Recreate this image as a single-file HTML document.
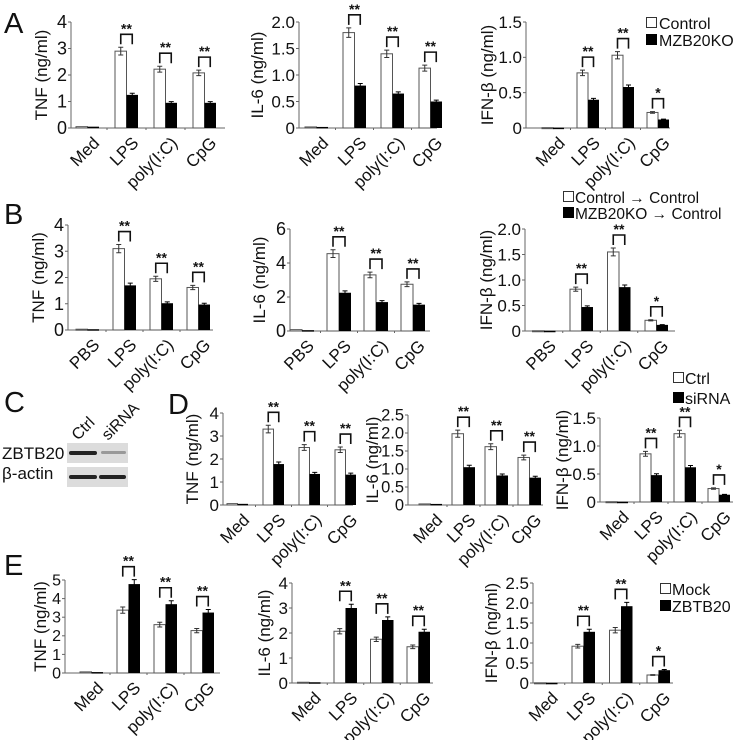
<!DOCTYPE html>
<html><head><meta charset="utf-8">
<style>
html,body{margin:0;padding:0;background:#fff;}
svg{display:block;font-family:"Liberation Sans",Arial,sans-serif;}
</style></head>
<body>
<svg id="fig" width="737" height="740" viewBox="0 0 737 740">
  <g font-size="29" fill="#111">
    <text x="4" y="33">A</text>
    <text x="4" y="224">B</text>
    <text x="4" y="412">C</text>
    <text x="168" y="414">D</text>
    <text x="4" y="575">E</text>
  </g>
  <g>
    <text x="2" y="459" font-size="17" fill="#111">ZBTB20</text>
    <text x="2" y="479" font-size="17" fill="#111">β-actin</text>
    <text transform="translate(78,441) rotate(-45)" font-size="16" fill="#111">Ctrl</text>
    <text transform="translate(108,441) rotate(-45)" font-size="16" fill="#111">siRNA</text>
    <rect x="67" y="443" width="61" height="20" fill="#dcdcdc"/>
    <rect x="67" y="467" width="61" height="20" fill="#dcdcdc"/>
    <rect x="69" y="451" width="28" height="4" rx="2" fill="#222"/>
    <rect x="101" y="451" width="25" height="3" rx="1.5" fill="#999"/>
    <rect x="69" y="475" width="28" height="4" rx="2" fill="#222"/>
    <rect x="99" y="475" width="27" height="4" rx="2" fill="#222"/>
  </g>
  <g id="charts"></g>
  <g font-size="16" fill="#111">
    <rect x="646.5" y="17.5" width="10" height="10" fill="#fff" stroke="#333"/>
    <text x="659" y="29">Control</text>
    <rect x="646" y="34" width="11" height="11" fill="#000"/>
    <text x="659" y="46">MZB20KO</text>
    <rect x="563.5" y="191.5" width="10" height="10" fill="#fff" stroke="#333"/>
    <text x="575" y="203" font-size="15.5">Control → Control</text>
    <rect x="563" y="207" width="11" height="11" fill="#000"/>
    <text x="575" y="219" font-size="15.5">MZB20KO → Control</text>
    <rect x="673.5" y="372.5" width="10" height="10" fill="#fff" stroke="#333"/>
    <text x="685" y="384">Ctrl</text>
    <rect x="673" y="392" width="11" height="11" fill="#000"/>
    <text x="685" y="404">siRNA</text>
    <rect x="660.5" y="583.5" width="10" height="10" fill="#fff" stroke="#333"/>
    <text x="672" y="595">Mock</text>
    <rect x="660" y="600" width="11" height="11" fill="#000"/>
    <text x="672" y="612">ZBTB20</text>
  </g>
</svg>
<script>
// ---- data ----
const catsMed = ["Med","LPS","poly(I:C)","CpG"];
const catsPBS = ["PBS","LPS","poly(I:C)","CpG"];
const starsAll = ["", "**", "**", "**"];
const starsIfn = ["", "**", "**", "*"];

const aTnfWhite = [0.05, 2.9, 2.22, 2.08];
const aTnfBlack = [0.05, 1.25, 0.95, 0.95];
const aIl6White = [0.02, 1.8, 1.4, 1.13];
const aIl6Black = [0.02, 0.8, 0.65, 0.5];
const aIfnWhite = [0.005, 0.78, 1.03, 0.22];
const aIfnBlack = [0.005, 0.4, 0.58, 0.12];

const bTnfWhite = [0.03, 3.1, 1.95, 1.62];
const bTnfBlack = [0.03, 1.7, 1.02, 0.97];
const bIl6White = [0.08, 4.55, 3.3, 2.75];
const bIl6Black = [0.05, 2.25, 1.7, 1.55];
const bIfnWhite = [0.005, 0.82, 1.55, 0.21];
const bIfnBlack = [0.005, 0.47, 0.86, 0.12];

const dTnfWhite = [0.06, 3.3, 2.5, 2.4];
const dTnfBlack = [0.05, 1.78, 1.35, 1.32];
const dIl6White = [0.03, 1.98, 1.62, 1.32];
const dIl6Black = [0.03, 1.05, 0.82, 0.76];
const dIfnWhite = [0.005, 0.86, 1.22, 0.24];
const dIfnBlack = [0.005, 0.48, 0.62, 0.13];

const eTnfWhite = [0.06, 3.38, 2.6, 2.28];
const eTnfBlack = [0.05, 4.78, 3.7, 3.25];
const eIl6White = [0.03, 2.07, 1.75, 1.45];
const eIl6Black = [0.03, 3.0, 2.52, 2.05];
const eIfnWhite = [0.005, 0.92, 1.32, 0.2];
const eIfnBlack = [0.005, 1.28, 1.92, 0.32];

const ticksTnf4 = [0, 1, 2, 3, 4];
const ticksTnf5 = [0, 1, 2, 3, 4, 5];
const ticksIl6A = [0, 0.5, 1.0, 1.5, 2.0];
const ticksIl6B = [0, 2, 4, 6];
const ticksIl6D = [0, 0.5, 1.0, 1.5, 2.0, 2.5];
const ticksIfn15 = [0, 0.5, 1.0, 1.5];
const ticksIfn20 = [0, 0.5, 1.0, 1.5, 2.0];
const ticksIfn25 = [0, 0.5, 1.0, 1.5, 2.0, 2.5];
const ticksIl6E = [0, 1, 2, 3, 4];

// ---- layout (pixels) ----
const panels = [
 {id:"a-tnf", title:"TNF (ng/ml)", cats:catsMed, w:aTnfWhite, b:aTnfBlack, ticks:ticksTnf4, fmt:0, stars:starsAll, x0:71, x1:225, y0:128, yt:22, lps:115, step:39, bw:11.5, tx:47, fs:18},
 {id:"a-il6", title:"IL-6 (ng/ml)", cats:catsMed, w:aIl6White, b:aIl6Black, ticks:ticksIl6A, fmt:1, stars:starsAll, x0:299, x1:437, y0:128, yt:22, lps:343, step:38, bw:11.5, tx:263, fs:17},
 {id:"a-ifn", title:"IFN-β (ng/ml)", cats:catsMed, w:aIfnWhite, b:aIfnBlack, ticks:ticksIfn15, fmt:1, stars:starsIfn, x0:526, x1:670, y0:128, yt:22, lps:577, step:35, bw:11, tx:493, fs:17},
 {id:"b-tnf", title:"TNF (ng/ml)", cats:catsPBS, w:bTnfWhite, b:bTnfBlack, ticks:ticksTnf4, fmt:0, stars:starsAll, x0:68, x1:213, y0:330, yt:225, lps:113, step:37, bw:11.5, tx:44, fs:18},
 {id:"b-il6", title:"IL-6 (ng/ml)", cats:catsPBS, w:bIl6White, b:bIl6Black, ticks:ticksIl6B, fmt:0, stars:starsAll, x0:290, x1:430, y0:331, yt:229, lps:327, step:37, bw:12, tx:265, fs:18},
 {id:"b-ifn", title:"IFN-β (ng/ml)", cats:catsPBS, w:bIfnWhite, b:bIfnBlack, ticks:ticksIfn20, fmt:1, stars:starsIfn, x0:525, x1:675, y0:331, yt:229, lps:570, step:37.5, bw:11.5, tx:492, fs:17},
 {id:"d-tnf", title:"TNF (ng/ml)", cats:catsMed, w:dTnfWhite, b:dTnfBlack, ticks:ticksTnf4, fmt:0, stars:starsAll, x0:223, x1:353, y0:505, yt:413, lps:263, step:36, bw:10.5, tx:198, fs:17},
 {id:"d-il6", title:"IL-6 (ng/ml)", cats:catsMed, w:dIl6White, b:dIl6Black, ticks:ticksIl6D, fmt:1, stars:starsAll, x0:408, x1:543, y0:505, yt:415, lps:452, step:33, bw:11.5, tx:378, fs:16.5},
 {id:"d-ifn", title:"IFN-β (ng/ml)", cats:catsMed, w:dIfnWhite, b:dIfnBlack, ticks:ticksIfn15, fmt:1, stars:starsIfn, x0:600, x1:733, y0:502, yt:418, lps:640, step:34, bw:11, tx:568, fs:17},
 {id:"e-tnf", title:"TNF (ng/ml)", cats:catsMed, w:eTnfWhite, b:eTnfBlack, ticks:ticksTnf5, fmt:0, stars:starsAll, x0:65, x1:220, y0:673, yt:580, lps:117, step:37, bw:11.5, tx:46, fs:16},
 {id:"e-il6", title:"IL-6 (ng/ml)", cats:catsMed, w:eIl6White, b:eIl6Black, ticks:ticksIl6E, fmt:0, stars:starsAll, x0:292, x1:433, y0:683, yt:583, lps:334, step:36.5, bw:11.5, tx:270, fs:17},
 {id:"e-ifn", title:"IFN-β (ng/ml)", cats:catsMed, w:eIfnWhite, b:eIfnBlack, ticks:ticksIfn25, fmt:1, stars:starsIfn, x0:533, x1:673, y0:683, yt:583, lps:572, step:37.5, bw:11.5, tx:497, fs:17}
];

const NS = "http://www.w3.org/2000/svg";
const root = document.getElementById("charts");
function mk(tag, attrs, parent){
  const e = document.createElementNS(NS, tag);
  for (const k in attrs) e.setAttribute(k, attrs[k]);
  parent.appendChild(e);
  return e;
}

panels.forEach(p => {
  const g = mk("g", {}, root);
  
  
  const ymax = p.ticks[p.ticks.length - 1];
  const yS = v => p.y0 - (v / ymax) * (p.y0 - p.yt);
  const xS = i => p.lps + (i - 1) * p.step;

  const ya = mk("line", {x1:p.x0, y1:p.yt, x2:p.x0, y2:p.y0, stroke:"#666", "stroke-width":1}, g);
  
  
  const xa = mk("line", {x1:p.x0, y1:p.y0, x2:p.x1, y2:p.y0, stroke:"#666", "stroke-width":1}, g);
  
  

  p.ticks.forEach(t => {
    const y = yS(t);
    const tk = mk("line", {x1:p.x0 - 3, y1:y, x2:p.x0, y2:y, stroke:"#666"}, g);
    
    
    const lb = mk("text", {x:p.x0 - 4, y:y + p.fs * 0.34, "text-anchor":"end", "font-size":p.fs, fill:"#111"}, g);
    lb.textContent = (t === 0) ? "0" : t.toFixed(p.fmt);
    
    
  });

  const ty = (p.y0 + p.yt) / 2;
  const tt = mk("text", {transform:`translate(${p.tx},${ty}) rotate(-90)`, "text-anchor":"middle", "font-size":17, fill:"#111"}, g);
  tt.textContent = p.title;
  
  

  p.cats.forEach((c, i) => {
    const left = xS(i);
    const center = left + p.bw;
    if (i > 0) {
      const sx = left - (p.step - 2 * p.bw) / 2;
      const st = mk("line", {x1:sx, y1:p.y0, x2:sx, y2:p.y0 + 2, stroke:"#666"}, g);
      
      
    }
    const wv = p.w[i], bv = p.b[i];
    const wy = yS(wv), by = yS(bv);
    const wr = mk("rect", {x:left, y:wy, width:p.bw, height:Math.max(p.y0 - wy, 1), fill:"#fff", stroke:"#555", "stroke-width":1}, g);
    
    
    const br = mk("rect", {x:left + p.bw, y:by, width:p.bw, height:Math.max(p.y0 - by, 1.5), fill:"#000"}, g);
    
    
    let wTop = wy, bTop = by;
    if (i > 0) {
      [[left + p.bw / 2, wv], [left + p.bw * 1.5, bv]].forEach(([cx, v], k) => {
        const e = v * 0.05;
        const y1 = yS(v + e), y2 = yS(v - e);
        const eb = mk("path", {d:`M${cx},${y1}V${y2}M${cx-2.5},${y1}H${cx+2.5}M${cx-2.5},${y2}H${cx+2.5}`, stroke: k ? "#000" : "#333", fill:"none", "stroke-width":1}, g);
        
        
        if (k === 0) wTop = y1; else bTop = y1;
      });
    }
    if (p.stars[i]) {
      const top = Math.min(wTop, bTop) - 13;
      const x1 = left + p.bw / 2, x2 = left + p.bw * 1.5;
      const bk = mk("path", {d:`M${x1},${top + 10}V${top}H${x2}V${top + 10}`, stroke:"#111", fill:"none", "stroke-width":1.6}, g);
      
      
      const sg = mk("text", {x:center, y:top - 1, "text-anchor":"middle", "font-size":14, "font-weight":"bold", fill:"#111"}, g);
      sg.textContent = p.stars[i];
      
      
    }
    const cl = mk("text", {transform:`translate(${center + 13},${p.y0 + 16}) rotate(-45)`, "text-anchor":"end", "font-size":17, fill:"#111"}, g);
    cl.textContent = c;
    
    
  });
});
</script>
</body></html>
